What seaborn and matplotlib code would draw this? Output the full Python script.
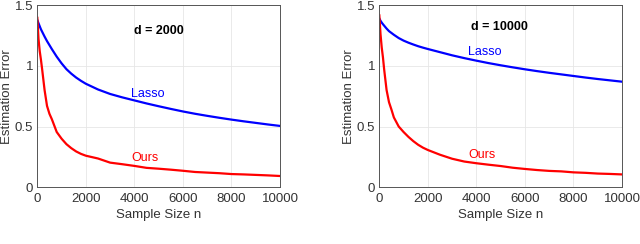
import numpy as np
import pandas as pd
import matplotlib
matplotlib.use("Agg")
import matplotlib.pyplot as plt
import seaborn as sns

# Sample sizes
n = [0, 50, 100, 150, 200, 300, 400, 500, 600, 800, 1000, 1200, 1400, 1600, 1800, 2000,
     2500, 3000, 3500, 4000, 4500, 5000, 5500, 6000, 6500, 7000, 7500, 8000, 8500, 9000, 9500, 10000]

# d = 2000
lasso_2000 = [1.377, 1.35, 1.325, 1.30, 1.28, 1.24, 1.203, 1.17, 1.137, 1.075, 1.02, 0.972, 0.935, 0.903, 0.876, 0.852,
              0.805, 0.768, 0.74, 0.715, 0.69, 0.667, 0.645, 0.624, 0.605, 0.588, 0.572, 0.557, 0.543, 0.53, 0.517, 0.505]
ours_2000 = [1.40, 1.22, 1.12, 1.05, 0.97, 0.80, 0.67, 0.605, 0.56, 0.455, 0.40, 0.355, 0.322, 0.295, 0.275, 0.26,
             0.237, 0.203, 0.19, 0.176, 0.16, 0.153, 0.145, 0.136, 0.126, 0.121, 0.116, 0.109, 0.106, 0.102, 0.098, 0.093]

# d = 10000
lasso_10000 = [1.39, 1.37, 1.355, 1.342, 1.33, 1.306, 1.285, 1.27, 1.255, 1.228, 1.207, 1.19, 1.175, 1.161, 1.149, 1.138,
               1.112, 1.086, 1.063, 1.042, 1.022, 1.004, 0.987, 0.971, 0.956, 0.942, 0.929, 0.916, 0.903, 0.891, 0.88, 0.869]
ours_10000 = [1.42, 1.26, 1.15, 1.07, 0.97, 0.80, 0.70, 0.64, 0.575, 0.50, 0.455, 0.415, 0.38, 0.35, 0.326, 0.307,
              0.268, 0.235, 0.212, 0.198, 0.186, 0.175, 0.161, 0.151, 0.142, 0.135, 0.131, 0.123, 0.119, 0.113, 0.11, 0.106]

titles = ["d = 2000", "d = 10000"]
xticks = [0, 2000, 4000, 6000, 8000, 10000]
yticks = [0, 0.5, 1, 1.5]
ytick_labels = ["0", "0.5", "1", "1.5"]

sns.set_style("whitegrid")
plt.rcParams["font.family"] = ["Liberation Sans", "DejaVu Sans"]

fig = plt.figure(figsize=(6.4, 2.44), dpi=100)
axes = [fig.add_axes([37.3/640, 1 - 187.3/244, 242.7/640, 182.3/244]),
        fig.add_axes([379.3/640, 1 - 187.3/244, 242.7/640, 182.3/244])]

panels = [
    (lasso_2000, ours_2000, (4550, 0.77), (4440, 0.24), (5000, 1.29)),
    (lasso_10000, ours_10000, (4360, 1.116), (4240, 0.266), (4940, 1.316)),
]

txt = "#333333"
narrow = ["Liberation Sans Narrow", "Liberation Sans"]
for ax, (las, our, lpos, opos, tpos), title in zip(axes, panels, titles):
    df = pd.DataFrame({"n": n * 2, "err": las + our,
                       "method": ["Lasso"] * len(n) + ["Ours"] * len(n)})
    sns.lineplot(data=df, x="n", y="err", hue="method",
                 palette={"Lasso": "#0000ff", "Ours": "#ff0000"},
                 linewidth=1.6, ax=ax, legend=False)
    ax.set_xlim(0, 10000)
    ax.set_ylim(0, 1.5)
    ax.set_xticks(xticks)
    ax.set_yticks(yticks)
    ax.set_xticklabels([str(t) for t in xticks], family=narrow)
    ax.set_yticklabels(ytick_labels, family=narrow)
    ax.set_xlabel("Sample Size n", fontsize=9.5, color=txt)
    ax.set_ylabel("Estimation Error", fontsize=9.5, color=txt)
    ax.xaxis.set_label_coords(0.5, -0.152)
    ax.xaxis.label.set_va("center")
    ax.yaxis.set_label_coords(-0.124, 0.5)
    ax.yaxis.label.set_va("center")
    ax.yaxis.label.set_ha("center")
    ax.tick_params(axis="both", labelsize=9.5, colors=txt, direction="in",
                   length=2.5, width=0.6)
    ax.tick_params(axis="x", pad=4)
    ax.tick_params(axis="y", pad=3)
    ax.grid(True, color="#e6e6e6", linewidth=0.6)
    for s in ax.spines.values():
        s.set_visible(True)
        s.set_color("#555555")
        s.set_linewidth(0.7)
    ax.text(lpos[0], lpos[1], "Lasso", color="#0000ff", fontsize=9, ha="center", va="center")
    ax.text(opos[0], opos[1], "Ours", color="#ff0000", fontsize=9, ha="center", va="center")
    ax.text(tpos[0], tpos[1], title, color="black", fontsize=9, fontweight="bold",
            ha="center", va="center")

fig.savefig("out.png", dpi=100)
